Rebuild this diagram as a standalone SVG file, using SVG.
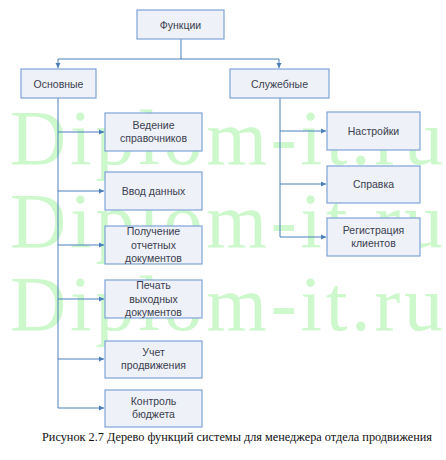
<svg xmlns="http://www.w3.org/2000/svg" width="446" height="460" viewBox="0 0 446 460">
<defs>
<marker id="arr" markerWidth="6" markerHeight="6" refX="5" refY="3" orient="auto" markerUnits="userSpaceOnUse">
<path d="M0,0.5 L5,3 L0,5.5 Z" fill="#4a7ebb"/>
</marker>
<style>
.box{fill:#eef1f7;stroke:#7fa3d8;stroke-width:1.2}
.t{font-family:"Liberation Sans",Arial,sans-serif;font-size:10.5px;fill:#3b4050;text-anchor:middle}
.c{fill:none;stroke:#4a7ebb;stroke-width:1}
.wm{font-family:"Liberation Serif","Times New Roman",serif;font-size:78px;fill:#ccf8cc}
.cap{font-family:"Liberation Serif","Times New Roman",serif;font-size:12.5px;fill:#111}
</style>
</defs>
<rect width="446" height="460" fill="#fff"/>
<g id="watermark">
<text class="wm" x="10" y="164" textLength="433" lengthAdjust="spacing">Diplom-it.ru</text>
<text class="wm" x="10" y="247" textLength="433" lengthAdjust="spacing">Diplom-it.ru</text>
<text class="wm" x="10" y="330" textLength="433" lengthAdjust="spacing">Diplom-it.ru</text>
</g>
<g id="connectors">
<path class="c" d="M181,39 V59 M58,59 H279"/>
<path class="c" d="M58,59 V68" marker-end="url(#arr)"/>
<path class="c" d="M279,59 V68" marker-end="url(#arr)"/>
<path class="c" d="M58,98 V408"/>
<path class="c" d="M58,132 H104" marker-end="url(#arr)"/>
<path class="c" d="M58,191 H104" marker-end="url(#arr)"/>
<path class="c" d="M58,245 H104" marker-end="url(#arr)"/>
<path class="c" d="M58,299 H104" marker-end="url(#arr)"/>
<path class="c" d="M58,359 H104" marker-end="url(#arr)"/>
<path class="c" d="M58,408 H104" marker-end="url(#arr)"/>
<path class="c" d="M280,98 V237"/>
<path class="c" d="M280,131 H326" marker-end="url(#arr)"/>
<path class="c" d="M280,184 H326" marker-end="url(#arr)"/>
<path class="c" d="M280,237 H326" marker-end="url(#arr)"/>
</g>
<g id="n-funkcii"><rect class="box" x="137" y="10" width="87" height="29"/><text class="t" x="180.5" y="28.5">Функции</text></g>
<g id="n-osnovnye"><rect class="box" x="21" y="69" width="75" height="29"/><text class="t" x="58.5" y="87.5">Основные</text></g>
<g id="n-sluzhebnye"><rect class="box" x="230" y="69" width="99" height="29"/><text class="t" x="279.5" y="87.5">Служебные</text></g>
<g id="n-vedenie"><rect class="box" x="105" y="113" width="97" height="38"/><text class="t" x="153.5" y="129">Ведение</text><text class="t" x="153.5" y="142">справочников</text></g>
<g id="n-vvod"><rect class="box" x="105" y="172" width="97" height="38"/><text class="t" x="153.5" y="194.5">Ввод данных</text></g>
<g id="n-poluchenie"><rect class="box" x="105" y="226" width="97" height="38"/><text class="t" x="153.5" y="235">Получение</text><text class="t" x="153.5" y="248.5">отчетных</text><text class="t" x="153.5" y="262">документов</text></g>
<g id="n-pechat"><rect class="box" x="105" y="280" width="97" height="38"/><text class="t" x="153.5" y="289">Печать</text><text class="t" x="153.5" y="302.5">выходных</text><text class="t" x="153.5" y="316">документов</text></g>
<g id="n-uchet"><rect class="box" x="105" y="341" width="97" height="37"/><text class="t" x="153.5" y="356">Учет</text><text class="t" x="153.5" y="369">продвижения</text></g>
<g id="n-kontrol"><rect class="box" x="105" y="390" width="97" height="37"/><text class="t" x="153.5" y="405">Контроль</text><text class="t" x="153.5" y="418">бюджета</text></g>
<g id="n-nastrojki"><rect class="box" x="327" y="112" width="93" height="38"/><text class="t" x="373.5" y="134.5">Настройки</text></g>
<g id="n-spravka"><rect class="box" x="327" y="166" width="93" height="37"/><text class="t" x="373.5" y="188">Справка</text></g>
<g id="n-registracia"><rect class="box" x="327" y="218" width="93" height="38"/><text class="t" x="373.5" y="234">Регистрация</text><text class="t" x="373.5" y="247">клиентов</text></g>
<text class="cap" x="42" y="441" textLength="390" lengthAdjust="spacingAndGlyphs">Рисунок 2.7 Дерево функций системы для менеджера отдела продвижения</text>
</svg>
